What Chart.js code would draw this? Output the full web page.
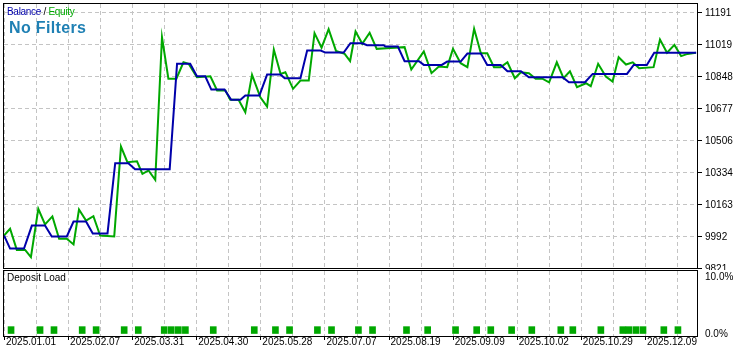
<!DOCTYPE html>
<html>
<head>
<meta charset="utf-8">
<script src="https://cdn.jsdelivr.net/npm/chart.js@4.4.1/dist/chart.umd.min.js"></script>
<style>
  body { margin: 0; background: #fff; }
  #wrap { position: relative; width: 745px; height: 350px; overflow: hidden; font-family: "Liberation Sans", Arial, sans-serif; }
  canvas { position: absolute; left: 0; }
  #mainChart { top: 0; }
  #loadChart { top: 269px; }
  .lbl { position: absolute; white-space: nowrap; line-height: 1; }
  #legend { left: 7px; top: 7px; font-size: 10px; letter-spacing: -0.3px; }
  #legend .b { color: #0000aa; }
  #legend .e { color: #00a800; }
  #title { left: 9px; top: 20px; font-size: 16px; letter-spacing: 0.35px; font-weight: bold; color: #1f80b4; }
  #loadLbl { left: 7px; top: 273px; font-size: 10px; color: #000; }
</style>
</head>
<body>
<div id="wrap">
  <canvas id="mainChart" width="745" height="270"></canvas>
  <canvas id="loadChart" width="745" height="81"></canvas>
  <div id="legend" class="lbl"><span class="b">Balance</span> / <span class="e">Equity</span></div>
  <div id="title" class="lbl">No Filters</div>
  <div id="loadLbl" class="lbl">Deposit Load</div>
</div>
<script>
// --- dados (x em unidades de grade, 2 unidades por rótulo de data) ---
const dateLabels = ['2025.01.01', '2025.02.07', '2025.03.31', '2025.04.30', '2025.05.28', '2025.07.07',
  '2025.08.19', '2025.09.09', '2025.10.02', '2025.10.29', '2025.12.09'];
const gridSteps = [0, 1, 2, 3, 4, 5, 6, 7, 8, 9, 10, 11, 12, 13, 14, 15, 16, 17, 18, 19, 20, 21];
const xMax = 21.625;

const yTickValues = [9821, 9992, 10163, 10334, 10506, 10677, 10848, 11019, 11191];
const yTickLabels = ['9821', '9992', '10163', '10334', '10506', '10677', '10848', '11019', '11191'];
const yMin = 9821;
const yMax = 11234;

const balanceX = [0, 0.19, 0.625, 0.87, 1.28, 1.49, 1.96, 2.17, 2.56, 2.77, 3.23, 3.47, 3.88, 4.09, 5.17, 5.40,
  5.81, 6.02, 6.28, 6.47, 6.88, 7.09, 7.38, 7.53, 7.97, 8.21, 8.63, 8.76, 9.25, 9.46, 9.88, 10.03, 10.60, 10.81,
  11.18, 11.33, 11.85, 11.9, 12.29, 12.50, 12.95, 13.10, 13.66, 13.83, 14.25, 14.46, 14.88, 15.08, 15.50, 15.71,
  16.13, 16.38, 17.43, 17.63, 18.13, 18.37, 19.44, 19.65, 20.06, 20.29, 21.6];
const balanceY = [9995, 9925, 9925, 10048, 10048, 9990, 9990, 10070, 10070, 10006, 10006, 10382, 10382, 10350, 10350, 10914,
  10914, 10847, 10847, 10776, 10776, 10721, 10721, 10744, 10744, 10856, 10856, 10837, 10837, 10985, 10985, 10974, 10974, 11024,
  11024, 11013, 11013, 11006, 11006, 10928, 10928, 10908, 10908, 10926, 10926, 10969, 10969, 10908, 10908, 10874,
  10874, 10842, 10842, 10815, 10815, 10860, 10860, 10908, 10908, 10973, 10973];

const equityX = [0, 0.19, 0.40, 0.66, 0.84, 1.07, 1.28, 1.51, 1.72, 1.96, 2.17, 2.34, 2.56, 2.79, 3.0, 3.44, 3.65,
  3.85, 4.15, 4.32, 4.51, 4.72, 4.93, 5.13, 5.38, 5.60, 5.76, 6.02, 6.44, 6.65, 6.91, 7.06, 7.32, 7.53, 7.74, 8.0,
  8.21, 8.42, 8.63, 8.78, 9.02, 9.25, 9.51, 9.69, 9.91, 10.13, 10.36, 10.63, 10.80, 10.97, 11.18, 11.41, 11.63,
  12.06, 12.5, 12.71, 13.10, 13.34, 13.57, 13.83, 14.01, 14.25, 14.46, 14.67, 14.88, 15.08, 15.29, 15.5, 15.71,
  15.94, 16.13, 16.38, 16.59, 16.80, 17.01, 17.25, 17.46, 17.66, 17.88, 18.16, 18.31, 18.54, 18.78, 18.99, 19.18,
  19.41, 19.62, 19.82, 20.27, 20.47, 20.69, 20.92, 21.13, 21.33, 21.59];
const equityY = [9995, 10031, 9918, 9918, 9879, 10138, 10054, 10097, 9977, 9977, 9947, 10134, 10075, 10098, 9995, 9990, 10471,
  10387, 10392, 10325, 10343, 10293, 11056, 10834, 10834, 10922, 10914, 10842, 10847, 10771, 10771, 10721, 10721, 10655, 10855, 10735,
  10685, 10990, 10860, 10869, 10780, 10824, 10824, 11078, 11000, 11099, 10983, 10967, 10929, 11087, 11021, 11080, 10994,
  10999, 11003, 10883, 10980, 10864, 10899, 10896, 10994, 10917, 10896, 11101, 10970, 10970, 10896, 10896, 10922,
  10837, 10869, 10863, 10834, 10834, 10815, 10922, 10837, 10874, 10789, 10810, 10794, 10914, 10846, 10819, 10949,
  10910, 10922, 10890, 10896, 11044, 10973, 11015, 10955, 10967, 10973];

const loadX = [0.22, 1.125, 1.56, 2.44, 2.875, 3.75, 4.19, 5.0, 5.22, 5.44, 5.66, 6.53, 7.81, 8.47, 8.91, 9.78,
  10.22, 11.06, 11.5, 12.56, 13.22, 14.09, 14.75, 15.19, 15.84, 16.47, 17.375, 17.75, 18.625, 19.31, 19.5, 19.72,
  19.94, 20.59, 21.03];
const loadY = [1.2, 1.2, 1.2, 1.2, 1.2, 1.2, 1.2, 1.2, 1.2, 1.2, 1.2, 1.2, 1.2, 1.2, 1.2, 1.2,
  1.2, 1.2, 1.2, 1.2, 1.2, 1.2, 1.2, 1.2, 1.2, 1.2, 1.2, 1.2, 1.2, 1.2, 1.2, 1.2,
  1.2, 1.2, 1.2];
const loadTickValues = [0, 10];
const loadTickLabels = ['0.0%', '10.0%'];

const FONT = { family: 'Liberation Sans', size: 10 };
const GRID = '#c4c4c4';

function toPoints(xs, ys) {
  return xs.map((x, i) => ({ x: x, y: ys[i] }));
}

// grade tracejada + marcas de escala, tiradas das escalas do grafico
const dashedGrid = {
  id: 'dashedGrid',
  beforeDatasetsDraw(chart, args, opts) {
    const a = chart.chartArea;
    const ctx = chart.ctx;
    const xs = chart.scales.x;
    const ys = chart.scales.y;
    ctx.save();
    ctx.lineWidth = 1;
    ctx.strokeStyle = GRID;
    ctx.setLineDash([4, 3]);
    ctx.beginPath();
    xs.ticks.forEach(t => {
      const px = Math.round(xs.getPixelForValue(t.value)) + 0.5;
      ctx.moveTo(px, a.top);
      ctx.lineTo(px, a.bottom);
    });
    if (opts.rows) {
      ys.ticks.forEach(t => {
        const py = Math.round(ys.getPixelForValue(t.value)) + 0.5;
        ctx.moveTo(a.left, py);
        ctx.lineTo(a.right, py);
      });
    }
    ctx.stroke();
    ctx.restore();
  },
  afterDraw(chart, args, opts) {
    const a = chart.chartArea;
    const ctx = chart.ctx;
    ctx.save();
    ctx.strokeStyle = '#000';
    ctx.lineWidth = 1;
    ctx.setLineDash([]);
    ctx.strokeRect(a.left - 0.5, a.top - 0.5, a.right - a.left + 1, a.bottom - a.top + 1);
    ctx.beginPath();
    if (opts.rows) {
      chart.scales.y.ticks.forEach(t => {
        const py = Math.round(chart.scales.y.getPixelForValue(t.value)) + 0.5;
        ctx.moveTo(a.right + 1, py);
        ctx.lineTo(a.right + 5, py);
      });
    }
    if (opts.dateTicks) {
      chart.scales.x.ticks.forEach((t, i) => {
        if (i % 2) return;
        const px = Math.round(chart.scales.x.getPixelForValue(t.value)) + 0.5;
        ctx.moveTo(px, a.bottom + 1);
        ctx.lineTo(px, a.bottom + 4);
      });
    }
    ctx.stroke();
    ctx.restore();
  }
};

// --- Balance / Equity ---
new Chart(document.getElementById('mainChart'), {
  type: 'line',
  data: {
    datasets: [
      { label: 'Balance', data: toPoints(balanceX, balanceY), borderColor: '#0000aa', borderWidth: 2 },
      { label: 'Equity', data: toPoints(equityX, equityY), borderColor: '#00a800', borderWidth: 2 }
    ]
  },
  options: {
    responsive: false,
    animation: false,
    devicePixelRatio: 1,
    layout: { padding: { left: 4, top: 4, right: 0, bottom: 2 } },
    plugins: { legend: { display: false }, tooltip: { enabled: false }, dashedGrid: { rows: true } },
    elements: { point: { radius: 0 }, line: { tension: 0 } },
    scales: {
      x: {
        type: 'linear', min: 0, max: xMax,
        afterBuildTicks: s => { s.ticks = gridSteps.map(v => ({ value: v })); },
        ticks: { display: false },
        grid: { display: false, drawTicks: false },
        border: { display: false }
      },
      y: {
        position: 'right', min: yMin, max: yMax,
        afterBuildTicks: s => { s.ticks = yTickValues.map(v => ({ value: v })); },
        afterFit: s => { s.width = 48; s.paddingTop = 0; s.paddingBottom = 0; },
        ticks: { color: '#000', font: FONT, padding: 8, labelOffset: 1, callback: (v, i) => yTickLabels[i] },
        grid: { display: false, drawTicks: false },
        border: { display: false }
      }
    }
  },
  plugins: [dashedGrid]
});

// --- Deposit Load ---
new Chart(document.getElementById('loadChart'), {
  type: 'bar',
  data: {
    datasets: [{ label: 'Deposit Load', data: toPoints(loadX, loadY), backgroundColor: '#00a800', barThickness: 6 }]
  },
  options: {
    responsive: false,
    animation: false,
    devicePixelRatio: 1,
    layout: { padding: { left: 4, top: 2, right: 0, bottom: 0 } },
    plugins: { legend: { display: false }, tooltip: { enabled: false }, dashedGrid: { dateTicks: true } },
    scales: {
      x: {
        type: 'linear', min: 0, max: xMax, offset: false,
        afterBuildTicks: s => { s.ticks = gridSteps.map(v => ({ value: v })); },
        afterFit: s => { s.height = 14; s.paddingLeft = 0; s.paddingRight = 0; },
        ticks: {
          color: '#000', font: FONT, padding: 0, align: 'start', labelOffset: 2, autoSkip: false, maxRotation: 0,
          callback: (v, i) => (i % 2 === 0 ? dateLabels[i / 2] : '')
        },
        grid: { display: false, drawTicks: false, offset: false },
        border: { display: false }
      },
      y: {
        position: 'right', min: -0.44, max: 10.96,
        afterBuildTicks: s => { s.ticks = loadTickValues.map(v => ({ value: v })); },
        afterFit: s => { s.width = 48; s.paddingTop = 0; s.paddingBottom = 0; },
        ticks: { color: '#000', font: FONT, padding: 8, labelOffset: 1, callback: (v, i) => loadTickLabels[i] },
        grid: { display: false, drawTicks: false },
        border: { display: false }
      }
    }
  },
  plugins: [dashedGrid]
});
</script>
</body>
</html>
